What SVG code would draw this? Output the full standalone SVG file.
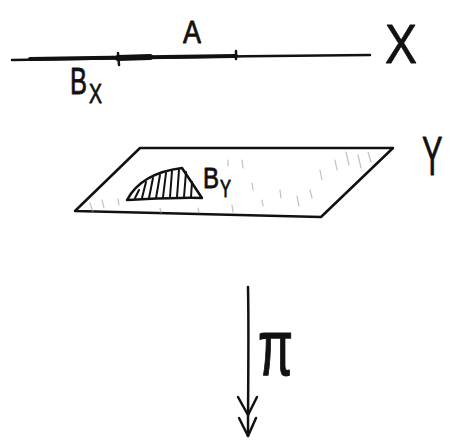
<svg xmlns="http://www.w3.org/2000/svg" width="458" height="445" viewBox="0 0 458 445">
<style>
.ln{fill:none;stroke:#111;stroke-linecap:round;stroke-linejoin:round}
.t{font-family:"Liberation Sans",Arial,sans-serif;fill:#111;stroke:#111;stroke-width:0.8;stroke-linejoin:round}
.faint{fill:none;stroke:#999;stroke-width:1.2;stroke-linecap:round;opacity:0.6}
</style>
<rect width="458" height="445" fill="#fff"/>
<g id="lineX">
<path class="ln" d="M12,60 C100,58 250,56 370,55" stroke-width="2.5"/>
<path class="ln" d="M30,59 C100,58 180,57 236,56" stroke-width="4"/>
<path class="ln" d="M118,58 L150,57" stroke-width="6"/>
<path class="ln" d="M118,53 L119,65" stroke-width="2.5"/>
<path class="ln" d="M236,51 L236,59" stroke-width="2.5"/>
<text class="t" x="183" y="43" font-size="32" textLength="18" lengthAdjust="spacingAndGlyphs">A</text>
<text class="t" x="70" y="94" font-size="36" textLength="17" lengthAdjust="spacingAndGlyphs">B</text>
<text class="t" x="89" y="103" font-size="27" textLength="13" lengthAdjust="spacingAndGlyphs">X</text>
<text class="t" x="385" y="63" font-size="56" textLength="32" lengthAdjust="spacingAndGlyphs" stroke-width="0.3">X</text>
</g>
<g id="planeY">
<path class="ln" d="M140,148 L393,148 L321,217 L75,211 Z" stroke-width="2.5"/>
<g class="faint">
<path d="M90,203 L93,212"/><path d="M102,200 L104,208"/><path d="M118,199 L119,205"/>
<path d="M228,160 L228,166"/><path d="M242,160 L243,168"/><path d="M252,183 L253,190"/>
<path d="M262,200 L263,206"/><path d="M280,190 L281,198"/><path d="M297,196 L299,206"/>
<path d="M320,170 L322,180"/><path d="M335,160 L337,170"/><path d="M346,152 L349,165"/>
<path d="M358,155 L361,168"/><path d="M368,152 L371,162"/><path d="M310,190 L312,198"/>
<path d="M232,205 L233,212"/><path d="M198,208 L199,213"/><path d="M160,208 L161,213"/>
</g>
<path class="ln" d="M127,200 C135,185 150,172 182,168 L202,198 C180,197 150,199 127,200 Z" stroke-width="2.5"/>
<g class="ln" stroke-width="2">
<path d="M135,198 L139,190"/><path d="M142,198 L146,182"/><path d="M149,198 L153,178"/>
<path d="M156,198 L160,175"/><path d="M163,197 L166,173"/><path d="M170,197 L172,171"/>
<path d="M177,197 L179,170"/><path d="M184,197 L186,172"/><path d="M191,197 L192,182"/>
</g>
<text class="t" x="203" y="188" font-size="29" textLength="16" lengthAdjust="spacingAndGlyphs">B</text>
<text class="t" x="220" y="197" font-size="23" textLength="11" lengthAdjust="spacingAndGlyphs">Y</text>
<text class="t" x="0" y="0" font-size="56" stroke-width="0.4" transform="translate(422,175) scale(0.55,1)">Y</text>
</g>
<g id="connectors">
<path class="ln" d="M248,287 C249,330 248,390 248,436" stroke-width="2.5"/>
<path class="ln" d="M238,397 L248,415 L257,397" stroke-width="2.5"/>
<path class="ln" d="M239,418 L248,436 L256,418" stroke-width="2.5"/>
<text class="t" x="0" y="0" font-size="52" textLength="35" lengthAdjust="spacingAndGlyphs" stroke-width="0" transform="translate(258,375) scale(1,1.55)">π</text>
</g>
</svg>
